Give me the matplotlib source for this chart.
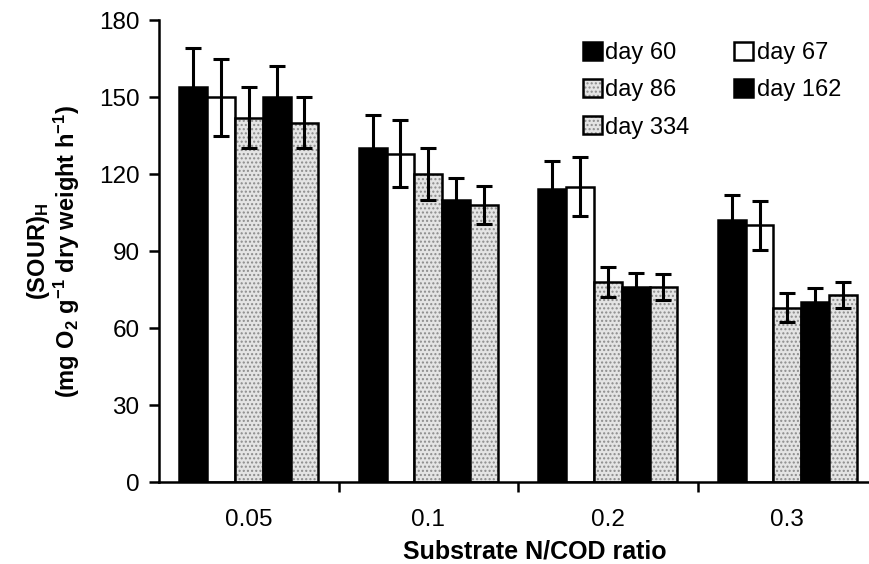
import matplotlib.pyplot as plt
import numpy as np

plt.rcParams['font.family'] = ['Liberation Sans', 'DejaVu Sans']

# N/COD ratio groups
ratios = ['0.05', '0.1', '0.2', '0.3']
days = ['day 60', 'day 67', 'day 86', 'day 162', 'day 334']

# SOUR_H values per sampling day (one value per ratio)
day60 = [154, 130, 114, 102]
day67 = [150, 128, 115, 100]
day86 = [142, 120, 78, 68]
day162 = [150, 110, 76, 70]
day334 = [140, 108, 76, 73]

# standard deviations
err60 = [15, 13, 11, 10]
err67 = [15, 13, 11.5, 9.5]
err86 = [12, 10, 6, 5.5]
err162 = [12, 8.5, 5.5, 5.5]
err334 = [10, 7.5, 5, 5]

values = [day60, day67, day86, day162, day334]
errors = [err60, err67, err86, err162, err334]
faces = ['black', 'white', '#e4e4e4', 'black', '#e4e4e4']
stipple = [False, False, True, False, True]

fig, ax = plt.subplots(figsize=(8.69, 5.64), dpi=100)
fig.subplots_adjust(left=0.183, right=0.999, bottom=0.145, top=0.9645)

x = np.arange(len(ratios))
w = 0.155
handles = []
for i in range(len(days)):
    pos = x + (i - 2) * w
    if stipple[i]:
        fill = ax.bar(pos, values[i], w, color=faces[i], edgecolor='#8c8c8c',
                      linewidth=0, hatch='....', zorder=2)
        edge = ax.bar(pos, values[i], w, fill=False, edgecolor='black',
                      linewidth=1.8, zorder=2)
        handles.append((fill, edge))
    else:
        b = ax.bar(pos, values[i], w, color=faces[i], edgecolor='black',
                   linewidth=1.8, zorder=2)
        handles.append(b)
    ax.errorbar(pos, values[i], yerr=errors[i], fmt='none', ecolor='black',
                elinewidth=2.2, capsize=6, capthick=2.2, zorder=3)

ax.set_xlim(-0.5, 3.45)
ax.set_ylim(0, 180)
ax.set_yticks(np.arange(0, 181, 30))
ax.set_xticks(x)
ax.set_xticklabels(ratios)
ax.set_xticks([0.5, 1.5, 2.5], minor=True)
ax.tick_params(axis='x', which='major', length=0, pad=19, labelsize=17.5)
ax.tick_params(axis='x', which='minor', length=7, width=1.8, direction='out')
ax.tick_params(axis='y', length=7, width=1.8, direction='out', pad=7, labelsize=17.5)

for s in ['top', 'right']:
    ax.spines[s].set_visible(False)
ax.spines['left'].set_linewidth(1.8)
ax.spines['bottom'].set_linewidth(1.8)

ax.set_xlabel('Substrate N/COD ratio', fontsize=18, fontweight='bold', labelpad=6)
ax.xaxis.set_label_coords(0.53, -0.125)
ax.set_ylabel('(SOUR)$\\mathregular{_H}$\n(mg O$\\mathregular{_2}$ g$\\mathregular{^{-1}}$ dry weight h$\\mathregular{^{-1}}$)',
              fontsize=17, fontweight='bold', labelpad=12, linespacing=1.0)

order = [0, 2, 4, 1, 3]
ax.legend([handles[i] for i in order], [days[i] for i in order], ncol=2,
          frameon=False, fontsize=17, loc='upper left',
          bbox_to_anchor=(0.646, 0.963), bbox_transform=fig.transFigure,
          handlelength=0.8, handleheight=0.8, handletextpad=0.15,
          columnspacing=1.9, labelspacing=0.63)

fig.savefig('out.png', dpi=100)
